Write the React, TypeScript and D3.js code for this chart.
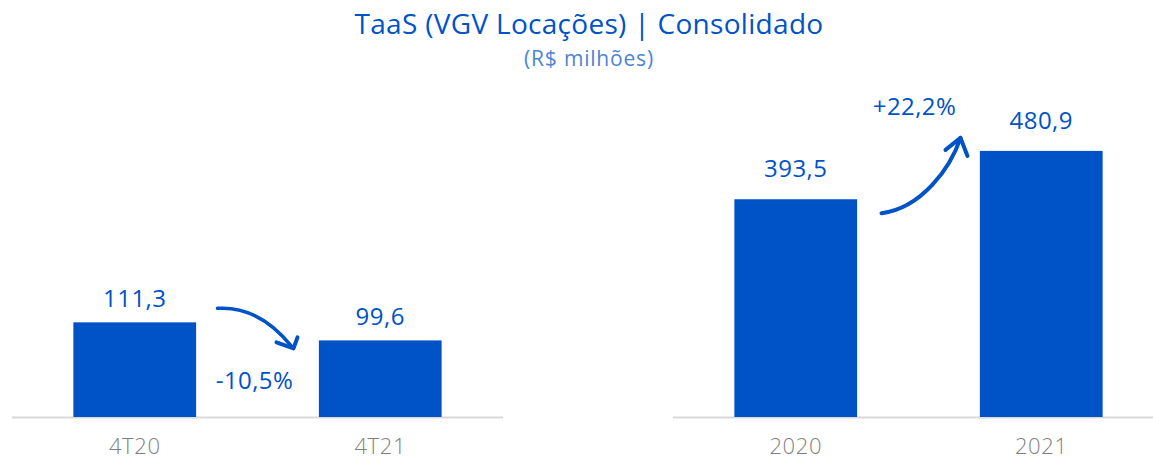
import React from "react";
import * as d3 from "d3";

const title = "TaaS (VGV Locações) | Consolidado";
const subtitle = "(R$ milhões)";

const quarterCategories = ["4T20", "4T21"];
const quarterValues = [111.3, 99.6];
const yearCategories = ["2020", "2021"];
const yearValues = [393.5, 480.9];

const W = 1153;
const H = 461;
const BLUE = "#0052C7";
const FONT = "'Open Sans', sans-serif";

function fmt(v: number, d = 1) {
  return v.toFixed(d).replace(".", ",");
}

type PanelProps = {
  cats: string[];
  vals: number[];
  xRange: [number, number];
  yDomain: [number, number];
  labelGap: number;
  kind: "down" | "up";
};

function Panel({ cats, vals, xRange, yDomain, labelGap, kind }: PanelProps) {
  const base = 417;
  const x = d3.scaleBand<string>().domain(cats).range(xRange).paddingInner(0.5).paddingOuter(0.25);
  const y = d3.scaleLinear().domain(yDomain).range([base, 85]);
  const bw = x.bandwidth();
  const x0End = (x(cats[0]) as number) + bw;
  const x1Start = x(cats[1]) as number;
  const mid = (x0End + x1Start) / 2;
  const pct = (vals[1] / vals[0] - 1) * 100;
  const pctText = (pct >= 0 ? "+" : "") + fmt(pct) + "%";

  let arrow: React.ReactNode;
  let pctLabel: React.ReactNode;
  if (kind === "down") {
    const sx = mid - 40, sy = y(vals[0]) - 14;
    const ex = mid + 35, ey = y(vals[1]) + 7;
    const body = d3.path();
    body.moveTo(sx, sy);
    body.bezierCurveTo(sx + 30, sy - 2, ex - 20, ey - 25, ex, ey);
    arrow = (
      <g fill="none" stroke={BLUE} strokeLinecap="round" strokeLinejoin="round">
        <path d={body.toString()} strokeWidth={3.5} />
        <path d={`M${ex - 16},${ey - 5} L${ex + 1},${ey + 1} L${ex + 5},${ey - 10}`} strokeWidth={4} />
      </g>
    );
    pctLabel = (
      <text x={mid - 3} y={base - 28} textAnchor="middle" fontSize={24} letterSpacing={0.4} fill={BLUE} fontFamily={FONT}>
        {pctText}
      </text>
    );
  } else {
    const sx = mid - 37, sy = y(vals[0]) + 14;
    const ex = mid + 42, ey = y(vals[1]) - 13;
    const body = d3.path();
    body.moveTo(sx, sy);
    body.bezierCurveTo(sx + 40, sy - 5, ex - 10, ey + 30, ex, ey);
    arrow = (
      <g fill="none" stroke={BLUE} strokeLinecap="round" strokeLinejoin="round">
        <path d={body.toString()} strokeWidth={4} />
        <path d={`M${ex - 15},${ey + 12} L${ex},${ey} L${ex + 7},${ey + 18}`} strokeWidth={4} />
      </g>
    );
    pctLabel = (
      <text x={mid - 4} y={y(vals[1]) - 36} textAnchor="middle" fontSize={24} letterSpacing={0.4} fill={BLUE} fontFamily={FONT}>
        {pctText}
      </text>
    );
  }

  return (
    <g>
      <line x1={xRange[0]} x2={xRange[1]} y1={base + 0.5} y2={base + 0.5} stroke="#d9d9d9" strokeWidth={2} />
      {cats.map((c, i) => (
        <g key={c}>
          <rect x={x(c)} y={y(vals[i])} width={bw} height={base - y(vals[i])} fill={BLUE} />
          <text
            x={(x(c) as number) + bw / 2}
            y={y(vals[i]) - labelGap}
            textAnchor="middle"
            fontSize={24}
            letterSpacing={0.5}
            fill={BLUE}
            fontFamily={FONT}
          >
            {fmt(vals[i])}
          </text>
          <text
            x={(x(c) as number) + bw / 2}
            y={454}
            textAnchor="middle"
            fontSize={22}
            letterSpacing={0.6}
            fill="#7f7f7f"
            fontFamily={FONT}
            fontWeight={300}
          >
            {c}
          </text>
        </g>
      ))}
      {arrow}
      {pctLabel}
    </g>
  );
}

export default function App() {
  return (
    <svg
      width={W}
      height={H}
      style={{ position: "absolute", left: 0, top: 0, background: "#fff" }}
    >
      <text x={589} y={34} textAnchor="middle" fontSize={28} letterSpacing={0.3} fill={BLUE} fontFamily={FONT}>
        {title}
      </text>
      <text x={589} y={66} textAnchor="middle" fontSize={21} letterSpacing={0.8} fill="#4d84d8" fontFamily={FONT}>
        {subtitle}
      </text>
      <Panel
        cats={quarterCategories}
        vals={quarterValues}
        xRange={[12, 503]}
        yDomain={[50, 265]}
        labelGap={15}
        kind="down"
      />
      <Panel
        cats={yearCategories}
        vals={yearValues}
        xRange={[673, 1164]}
        yDomain={[0, 600]}
        labelGap={22}
        kind="up"
      />
    </svg>
  );
}
